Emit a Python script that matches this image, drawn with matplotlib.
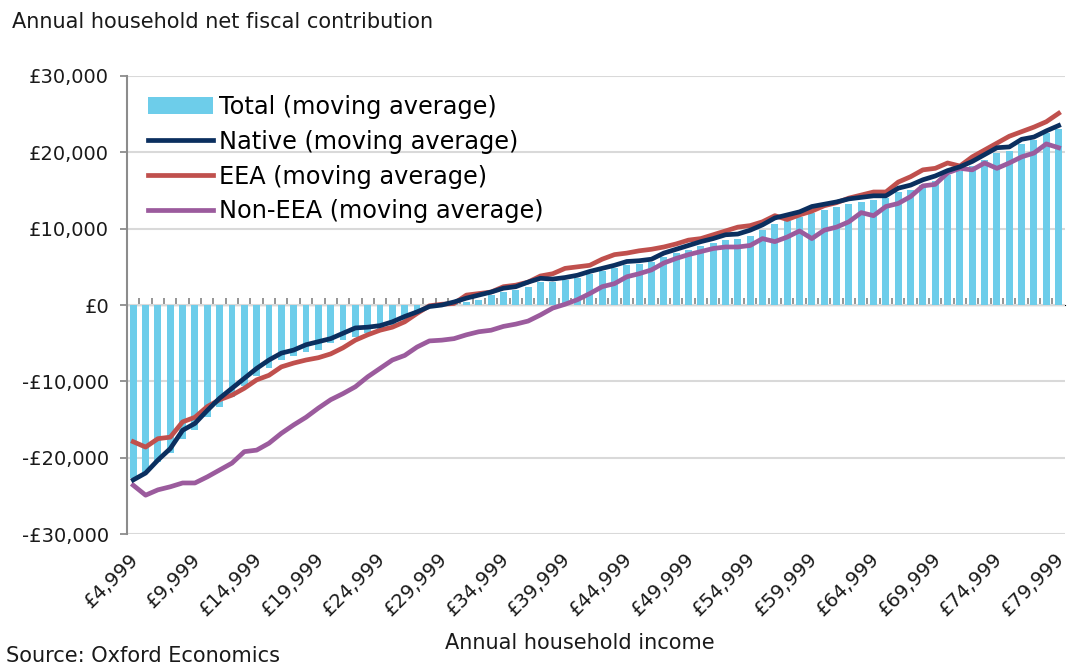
import matplotlib
matplotlib.use("Agg")
import matplotlib.pyplot as plt
import matplotlib.transforms as mtransforms
import numpy as np

# ==========================================
# DATA (£ per year)
# ==========================================

income = [f"£{v:,}" for v in range(4999, 80000, 1000)]

total = [-22.6, -21.8, -20.5, -19.4, -17.5, -16.4, -14.7, -13.4, -12.0, -10.6,
         -9.3, -8.2, -7.2, -6.7, -6.2, -5.9, -5.0, -4.6, -4.2, -3.6,
         -3.3, -2.6, -1.9, -1.1, -0.4, -0.1, 0.1, 0.4, 0.7, 1.3,
         1.7, 2.0, 2.4, 3.0, 3.0, 3.3, 3.5, 4.0, 4.4, 4.8,
         5.3, 5.4, 5.6, 6.3, 6.8, 7.2, 7.7, 8.1, 8.5, 8.6,
         9.1, 9.8, 10.6, 11.0, 11.5, 12.1, 12.4, 12.8, 13.2, 13.5,
         13.7, 14.0, 14.8, 15.1, 15.7, 16.2, 17.0, 17.5, 18.2, 19.0,
         19.9, 20.2, 21.1, 21.6, 22.5, 23.0]

native = [-22.9, -22.0, -20.3, -18.8, -16.4, -15.5, -13.8, -12.2, -10.9, -9.6,
          -8.3, -7.2, -6.3, -5.9, -5.2, -4.8, -4.4, -3.7, -3.0, -2.9,
          -2.7, -2.2, -1.5, -0.9, -0.2, 0.0, 0.4, 0.9, 1.3, 1.7,
          2.2, 2.4, 3.0, 3.5, 3.4, 3.6, 3.9, 4.4, 4.8, 5.2,
          5.7, 5.8, 6.0, 6.8, 7.3, 7.8, 8.3, 8.7, 9.2, 9.3,
          9.8, 10.5, 11.4, 11.8, 12.2, 12.9, 13.2, 13.5, 13.9, 14.1,
          14.3, 14.3, 15.3, 15.7, 16.4, 16.9, 17.6, 18.1, 18.8, 19.7,
          20.6, 20.7, 21.7, 22.0, 22.8, 23.5]

eea = [-17.9, -18.6, -17.5, -17.3, -15.3, -14.7, -13.3, -12.4, -11.8, -10.9,
       -9.8, -9.2, -8.1, -7.6, -7.2, -6.9, -6.4, -5.6, -4.6, -3.9,
       -3.3, -2.9, -2.2, -1.1, -0.1, 0.1, 0.2, 1.3, 1.5, 1.7,
       2.4, 2.6, 3.0, 3.8, 4.1, 4.8, 5.0, 5.2, 6.0, 6.6,
       6.8, 7.1, 7.3, 7.6, 8.0, 8.5, 8.7, 9.2, 9.7, 10.2,
       10.4, 10.9, 11.7, 11.2, 11.8, 12.3, 13.0, 13.4, 14.0, 14.4,
       14.8, 14.8, 16.1, 16.8, 17.7, 17.9, 18.6, 18.2, 19.4, 20.3,
       21.2, 22.1, 22.7, 23.3, 24.0, 25.1]

non_eea = [-23.6, -24.9, -24.2, -23.8, -23.3, -23.3, -22.5, -21.6, -20.7, -19.2,
           -19.0, -18.1, -16.8, -15.7, -14.7, -13.5, -12.4, -11.6, -10.7, -9.4,
           -8.3, -7.2, -6.6, -5.5, -4.7, -4.6, -4.4, -3.9, -3.5, -3.3,
           -2.8, -2.5, -2.1, -1.3, -0.4, 0.1, 0.7, 1.5, 2.4, 2.8,
           3.7, 4.1, 4.6, 5.5, 6.1, 6.6, 7.0, 7.4, 7.6, 7.6,
           7.8, 8.7, 8.3, 8.9, 9.7, 8.7, 9.8, 10.2, 10.9, 12.1,
           11.7, 12.9, 13.3, 14.2, 15.6, 15.8, 17.3, 17.9, 17.7, 18.6,
           17.9, 18.6, 19.4, 19.9, 21.1, 20.6]

y_ticks = [-30000, -20000, -10000, 0, 10000, 20000, 30000]

# ==========================================
# PLOT
# ==========================================

plt.rcParams["font.family"] = ["DejaVu Sans"]

fig = plt.figure(figsize=(10.68, 6.66), dpi=100)
ax = fig.add_axes([0.119, 0.198, 0.878, 0.688])

x = np.arange(len(income))
to_pounds = lambda v: np.array(v) * 1000

bars = ax.bar(x, to_pounds(total), width=0.56, color="#6DCDEA",
              label="Total (moving average)", zorder=2)
l1, = ax.plot(x, to_pounds(native), color="#0B2F5F", lw=3.4,
              label="Native (moving average)", zorder=4)
l2, = ax.plot(x, to_pounds(eea), color="#C0504D", lw=3.4,
              label="EEA (moving average)", zorder=3)
l3, = ax.plot(x, to_pounds(non_eea), color="#9B5B9D", lw=3.4,
              label="Non-EEA (moving average)", zorder=3)

ax.set_xlim(-0.5, len(income) - 0.5)
ax.set_ylim(-30000, 30000)

# y axis
ax.set_yticks(y_ticks)
ax.set_yticklabels([f"-£{-v:,}" if v < 0 else f"£{v:,}" for v in y_ticks])
ax.yaxis.grid(True, color="#D9D9D9", lw=1.5, zorder=0)
ax.tick_params(axis="y", labelsize=14, length=5, color="#8C8C8C",
               width=1.3, pad=8, labelcolor="#1a1a1a")

# x labels at the bottom, every 5th category
ax.set_xticks(x[::5])
ax.set_xticklabels(income[::5], rotation=45, ha="right",
                   rotation_mode="anchor", fontsize=14, color="#1a1a1a")
ax.tick_params(axis="x", length=0, pad=11)
shift = mtransforms.ScaledTranslation(-4 / 100, 0, fig.dpi_scale_trans)
for lbl in ax.get_xticklabels():
    lbl.set_transform(lbl.get_transform() + shift)

for side in ["top", "right", "bottom"]:
    ax.spines[side].set_visible(False)
ax.spines["left"].set_color("#8C8C8C")
ax.spines["left"].set_linewidth(1.5)

# category axis drawn at zero, Excel style, ticks between categories
zero_axis = ax.secondary_xaxis(0.5)
zero_axis.set_xticks(x[1:] - 0.5)
zero_axis.set_xticklabels([])
zero_axis.tick_params(direction="out", length=5, color="#8C8C8C", width=1.3)
zero_axis.spines["bottom"].set_color("#8C8C8C")
zero_axis.spines["bottom"].set_linewidth(1.8)

ax.legend([bars, l1, l2, l3],
          [bars.get_label(), l1.get_label(), l2.get_label(), l3.get_label()],
          loc="upper left", bbox_to_anchor=(0.004, 0.995), frameon=False,
          fontsize=17.3, handlelength=2.7, handleheight=0.7,
          labelspacing=0.45, handletextpad=0.25, borderaxespad=0.3)

fig.text(0.011, 0.967, "Annual household net fiscal contribution",
         fontsize=15, color="#1a1a1a", va="center")
fig.text(0.543, 0.034, "Annual household income", fontsize=15,
         color="#1a1a1a", ha="center", va="center")
fig.text(0.006, 0.0, "Source: Oxford Economics", fontsize=15,
         color="#1a1a1a", va="bottom")

fig.savefig("out.png", dpi=100)
